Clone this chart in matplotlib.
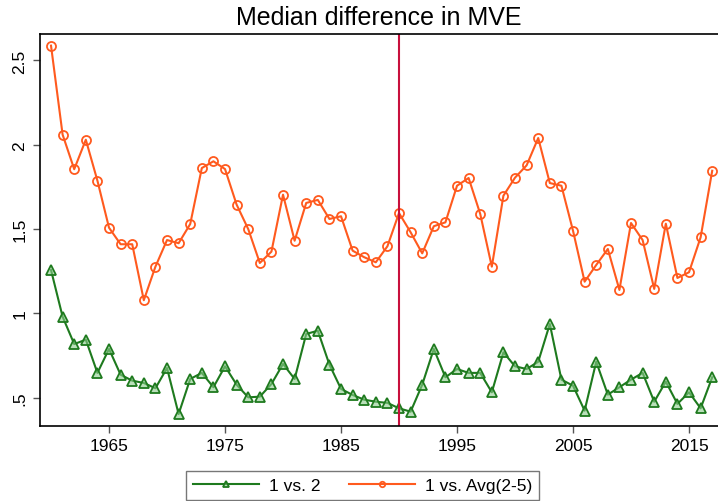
import numpy as np
import matplotlib
matplotlib.use("Agg")
from matplotlib import pyplot as plt

plt.rcParams['font.family'] = ['Liberation Sans', 'DejaVu Sans']

years = list(range(1960, 2018))
vs2 = [1.257, 0.98, 0.818, 0.844, 0.647, 0.789, 0.636, 0.601, 0.587, 0.556,
       0.676, 0.403, 0.611, 0.647, 0.562, 0.686, 0.577, 0.502, 0.506, 0.581,
       0.70, 0.611, 0.878, 0.897, 0.696, 0.552, 0.516, 0.488, 0.476, 0.469,
       0.437, 0.417, 0.577, 0.789, 0.621, 0.67, 0.647, 0.647, 0.532, 0.769,
       0.686, 0.67, 0.713, 0.937, 0.607, 0.571, 0.423, 0.713, 0.518, 0.562,
       0.607, 0.647, 0.476, 0.595, 0.463, 0.532, 0.437, 0.621]
vs_avg = [2.588, 2.06, 1.855, 2.03, 1.787, 1.508, 1.41, 1.41, 1.078, 1.277,
          1.435, 1.416, 1.53, 1.862, 1.902, 1.856, 1.645, 1.50, 1.299, 1.366,
          1.704, 1.431, 1.655, 1.673, 1.56, 1.576, 1.372, 1.333, 1.303, 1.398,
          1.595, 1.481, 1.356, 1.517, 1.54, 1.757, 1.803, 1.59, 1.277, 1.698,
          1.805, 1.878, 2.04, 1.773, 1.757, 1.49, 1.188, 1.287, 1.382, 1.139,
          1.536, 1.435, 1.145, 1.532, 1.21, 1.244, 1.451, 1.846]
yticks = [0.5, 1, 1.5, 2, 2.5]
ytick_labels = ['.5', '1', '1.5', '2', '2.5']
xticks = [1965, 1975, 1985, 1995, 2005, 2015]
break_year = 1990

green = '#1E7A1E'
orange = '#FF5A1E'

fig = plt.figure(figsize=(7.18, 5.02), dpi=100)
ax = fig.add_axes([40/718, 1-427/502, 690/718, 392/502])

ax.plot(years, vs2, color=green, lw=1.5, marker='^', ms=7,
        mfc=(0.55, 0.8, 0.55, 0.6), mec=green, mew=1.3, label='1 vs. 2')
ax.plot(years, vs_avg, color=orange, lw=1.5, marker='o', ms=6.5,
        mfc='none', mec=orange, mew=1.3, label='1 vs. Avg(2-5)')
ax.axvline(break_year, color='#C8103C', lw=1.5)

ax.set_xlim(1959.05, 1959.05 + 690/11.6)
ax.set_ylim(0.332, 2.657)
ax.set_xticks(xticks)
ax.set_yticks(yticks)
ax.set_yticklabels(ytick_labels, rotation=90, va='center')
ax.tick_params(axis='both', labelsize=12.5, length=5, width=1, color='#555555')
ax.tick_params(axis='y', pad=4)
for s in ax.spines.values():
    s.set_linewidth(1.2)

fig.text(379/718, 1-18/502, 'Median difference in MVE', ha='center', va='center', fontsize=18)

fig.legend(loc='upper center', bbox_to_anchor=(362.7/718, 1-471.7/502), ncol=2,
           fontsize=12.5, handlelength=3.8, handletextpad=0.6, markerscale=0.6,
           frameon=True, fancybox=False, edgecolor='#555555', borderpad=0.4,
           columnspacing=1.6, borderaxespad=0)

fig.savefig('out.png', dpi=100, facecolor='white')
